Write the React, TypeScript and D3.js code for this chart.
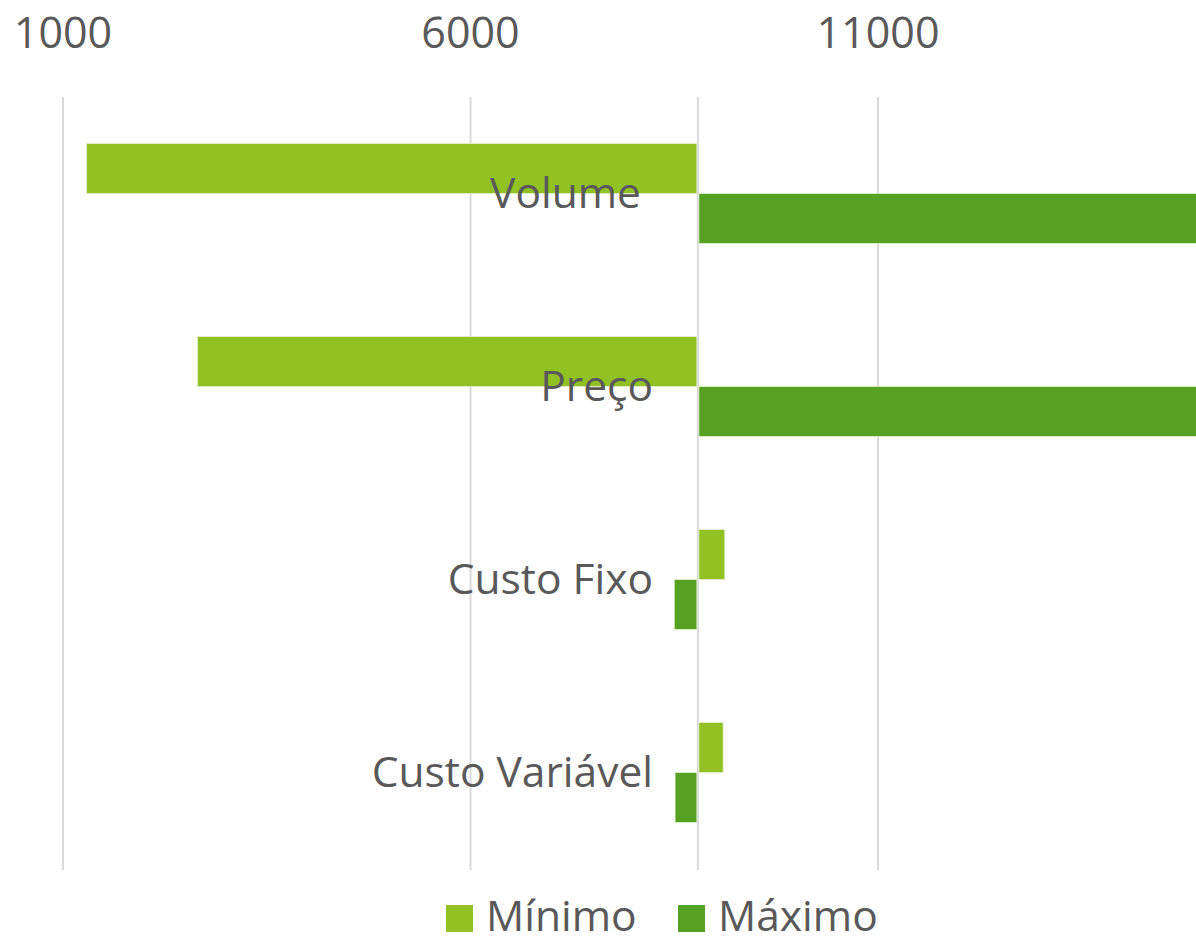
import React from "react";
import * as d3 from "d3";

const categories = ["Volume", "Preço", "Custo Fixo", "Custo Variável"];
const minimo = [1290, 2650, 9120, 9100];
const maximo = [16280, 14930, 8500, 8510];
const baseValue = 8790;
const tickValues = [1000, 6000, 11000];
const seriesNames = ["Mínimo", "Máximo"];
const seriesColors = ["#92C123", "#55A121"];

const W = 1196;
const H = 936;
const FONT = "'Open Sans', sans-serif";
const TEXT = "#595959";

export default function App() {
  const x = d3.scaleLinear().domain([1000, 11000]).range([63, 878]);
  const y = d3.scaleBand<string>().domain(categories).range([97, 869]).paddingInner(0.482).paddingOuter(0.241);
  const inner = d3.scaleBand<string>().domain(seriesNames).range([0, y.bandwidth()]);
  const x0 = x(baseValue);
  const series = [minimo, maximo];

  return (
    <svg width={W} height={H} style={{ position: "absolute", left: 0, top: 0, background: "#fff" }}>
      <defs>
        <clipPath id="clip">
          <rect x={0} y={0} width={W} height={H} />
        </clipPath>
      </defs>
      <g clipPath="url(#clip)">
        {tickValues.map((t) => (
          <g key={t}>
            <line x1={x(t)} x2={x(t)} y1={97} y2={870} stroke="#D9D9D9" strokeWidth={2} />
            <text x={x(t)} y={48} textAnchor="middle" fontFamily={FONT} fontSize={43} fill={TEXT}>
              {t}
            </text>
          </g>
        ))}
        <line x1={x0} x2={x0} y1={97} y2={870} stroke="#D9D9D9" strokeWidth={2} />
        {categories.map((c, i) => (
          <g key={c}>
            {series.map((s, j) => {
              const v = s[i];
              const xa = Math.min(x(v), x0);
              const xb = Math.max(x(v), x0);
              return (
                <rect
                  key={j}
                  x={xa + (v > baseValue ? 1 : 0)}
                  y={(y(c) as number) + (inner(seriesNames[j]) as number)}
                  width={xb - xa - 1}
                  height={inner.bandwidth()}
                  fill={seriesColors[j]}
                  stroke="#E4EFD0"
                  strokeWidth={0.8}
                />
              );
            })}
            <text
              x={c === "Volume" ? 641 : 653}
              y={(y(c) as number) + y.bandwidth() / 2}
              dy="0.35em"
              textAnchor="end"
              fontFamily={FONT}
              fontSize={42.5}
              fill={TEXT}
            >
              {c}
            </text>
          </g>
        ))}
        {seriesNames.map((n, j) => {
          const lx = [446, 678][j];
          return (
            <g key={n}>
              <rect x={lx} y={905} width={27} height={27} fill={seriesColors[j]} />
              <text x={lx + 40} y={931} fontFamily={FONT} fontSize={42.5} fill={TEXT}>
                {n}
              </text>
            </g>
          );
        })}
      </g>
    </svg>
  );
}
